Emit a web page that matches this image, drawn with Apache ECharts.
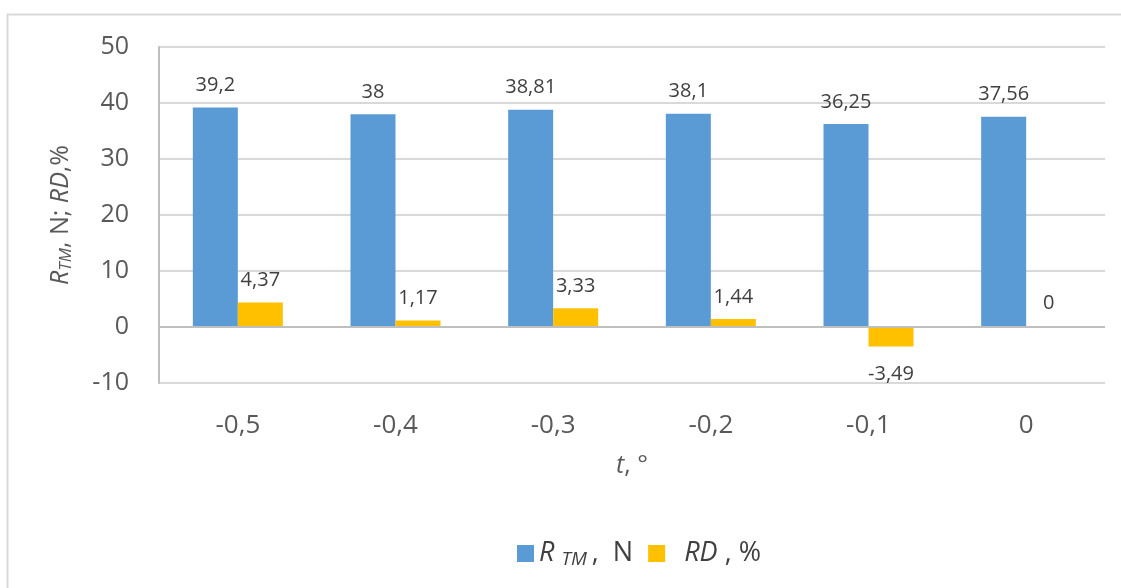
<!DOCTYPE html>
<html>
<head>
<meta charset="utf-8">
<script src="https://cdn.jsdelivr.net/npm/echarts@6/dist/echarts.min.js"></script>
<style>
  html, body { margin: 0; padding: 0; background: #fff; }
  #chart { width: 1121px; height: 588px; }
</style>
</head>
<body>
<div id="chart"></div>
<script>
// t, ° categories
var categories = ['-0,5', '-0,4', '-0,3', '-0,2', '-0,1', '0']
// R_TM, N
var rtmValues = [39.2, 38, 38.81, 38.1, 36.25, 37.56]
// RD, %
var rdValues = [4.37, 1.17, 3.33, 1.44, -3.49, 0]
var yTicks = { min: -10, max: 50, step: 10 }

var font = '"Open Sans", "Noto Sans", sans-serif'
var grey = '#595959'

function comma (v) {
  return String(v).replace('.', ',')
}

var labelStyle = {
  show: true,
  position: 'top',
  distance: 12,
  fontFamily: font,
  fontSize: 20,
  color: '#404040',
  formatter: function (p) { return comma(p.value) }
}

var rich = {
  i: { fontFamily: font, fontStyle: 'italic', fontSize: 25, color: grey },
  sub: { fontFamily: font, fontStyle: 'italic', fontSize: 17, color: grey, padding: [11, 0, 0, 0] },
  n: { fontFamily: font, fontSize: 25, color: grey }
}
var legendRich = {
  i: { fontFamily: font, fontStyle: 'italic', fontSize: 27, color: '#404040' },
  sub: { fontFamily: font, fontStyle: 'italic', fontSize: 19, color: '#404040', padding: [12, 0, 0, 0] },
  n: { fontFamily: font, fontSize: 27, color: '#404040' }
}

var chart = echarts.init(document.getElementById('chart'))
chart.setOption({
  animation: false,
  backgroundColor: '#fff',
  graphic: [{
    type: 'rect',
    shape: { x: 7.5, y: 14.5, width: 1140, height: 600 },
    style: { fill: 'none', stroke: '#d9d9d9', lineWidth: 2 },
    silent: true
  }],
  grid: { left: 159, right: 16, top: 47, bottom: 205 },
  legend: {
    left: 512,
    top: 535,
    icon: 'rect',
    itemWidth: 17,
    itemHeight: 17,
    itemGap: 8,
    formatter: function (name) {
      if (name === 'rtm') return '{i|R }{sub|TM }{n|,  N }'
      return '{i|  RD}{n| , %}'
    },
    textStyle: { fontFamily: font, fontSize: 27, color: '#404040', rich: legendRich }
  },
  xAxis: {
    type: 'category',
    data: categories,
    name: '{i|t}{n|, °}',
    nameLocation: 'middle',
    nameGap: 70,
    nameTextStyle: { rich: rich },
    axisLine: { onZero: false, show: false },
    axisTick: { show: false },
    axisLabel: { fontFamily: font, fontSize: 26, color: grey, margin: 30 }
  },
  yAxis: {
    type: 'value',
    min: yTicks.min,
    max: yTicks.max,
    interval: yTicks.step,
    name: '{i|R}{sub|TM}{n|, N; }{i|RD}{n|,%}',
    nameLocation: 'middle',
    nameRotate: 90,
    nameGap: 84,
    nameTextStyle: { rich: rich },
    axisLine: { show: true, lineStyle: { color: '#bfbfbf', width: 2 } },
    axisTick: { show: false },
    axisLabel: { fontFamily: font, fontSize: 25, color: grey, margin: 30 },
    splitLine: { lineStyle: { color: '#d9d9d9', width: 2 } }
  },
  series: [
    {
      name: 'rtm',
      type: 'bar',
      barWidth: 45,
      barGap: '0%',
      itemStyle: { color: '#5b9bd5' },
      label: labelStyle,
      data: rtmValues,
      markLine: {
        silent: true,
        symbol: 'none',
        label: { show: false },
        lineStyle: { color: '#bfbfbf', width: 2, type: 'solid' },
        data: [{ yAxis: 0 }]
      }
    },
    {
      name: 'rd',
      type: 'bar',
      barWidth: 45,
      itemStyle: { color: '#ffc000' },
      label: labelStyle,
      data: rdValues.map(function (v) {
        return v < 0
          ? { value: v, label: { position: 'bottom', distance: 18 } }
          : { value: v, label: { distance: v === 0 ? 14 : 12 } }
      })
    }
  ]
})
</script>
</body>
</html>
